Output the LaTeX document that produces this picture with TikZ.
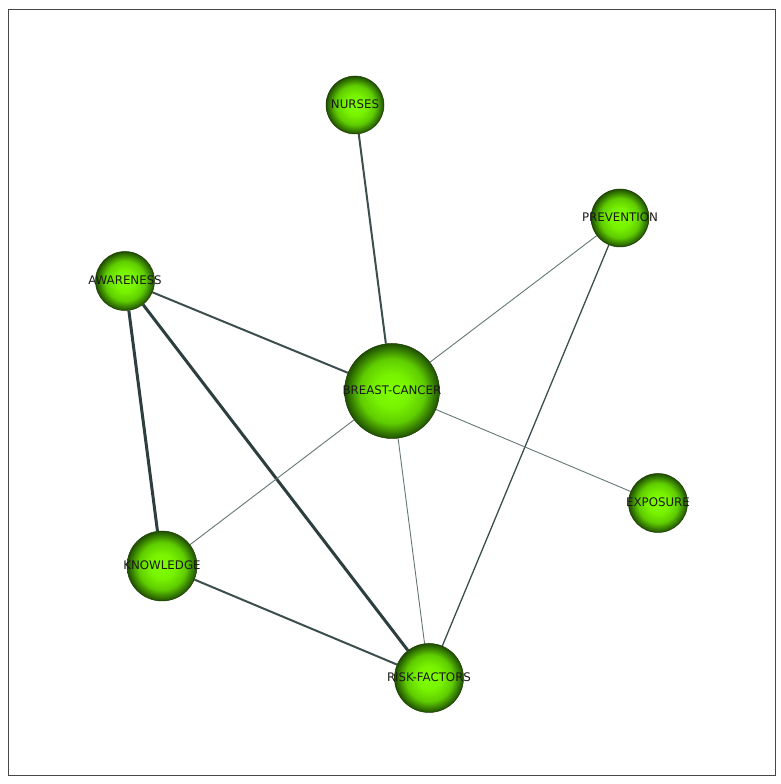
\documentclass[tikz,border=0pt]{standalone}
\usepackage{fontspec}
\setsansfont{DejaVu Sans}
\usetikzlibrary{
  backgrounds
}
\definecolor{ballLight}{RGB}{128,255,0}
\definecolor{ballMid}{RGB}{95,205,0}
\definecolor{ballDark}{RGB}{30,78,0}
\definecolor{ballEdge}{RGB}{28,58,0}
\definecolor{edgeThin}{RGB}{100,118,118}
\definecolor{edgeMid}{RGB}{60,78,78}
\definecolor{edgeThick}{RGB}{45,62,62}
\definecolor{frameLine}{RGB}{70,70,70}
\pgfdeclareradialshading{greenball}{\pgfpoint{0bp}{0bp}}{%
  color(0bp)=(ballLight); color(9bp)=(ballLight!75!ballMid);
  color(17bp)=(ballMid); color(25bp)=(ballDark); color(50bp)=(ballDark)}
\newcommand{\balltext}[1]{\makebox[0pt]{\raisebox{2.5pt}{#1}}}
\tikzset{
  ball/.style={
    circle,
    shading=greenball,
    draw=ballEdge,
    line width=0.5pt,
    inner sep=0pt,
    text=black!90,
    font=\sffamily\fontsize{11.8}{12}\selectfont
  },
  thinedge/.style={
    draw=edgeThin,
    line width=0.9pt
  },
  lightedge/.style={
    draw=edgeMid,
    line width=1.3pt
  },
  midedge/.style={
    draw=edgeMid,
    line width=2pt
  },
  thickedge/.style={
    draw=edgeThick,
    line width=3pt
  }
}

\begin{document}
\begin{tikzpicture}[x=1pt,y=1pt]
  \useasboundingbox (0,0) rectangle (781,784);
  \draw[frameLine, line width=1pt] (8.5,8) rectangle (775,774);

  \node[ball, minimum size=58pt] (nurses) at (355,679)
    {\balltext{NURSES}};
  \node[ball, minimum size=58pt] (prevention) at (620,566)
    {\balltext{PREVENTION}};
  \node[ball, minimum size=59pt] (awareness) at (125,503)
    {\balltext{AWARENESS}};
  \node[ball, minimum size=95pt] (cancer) at (392,393)
    {\balltext{BREAST-CANCER}};
  \node[ball, minimum size=59pt] (exposure) at (658,281)
    {\balltext{EXPOSURE}};
  \node[ball, minimum size=70pt] (knowledge) at (162,218)
    {\balltext{KNOWLEDGE}};
  \node[ball, minimum size=69pt] (risk) at (429,106)
    {\balltext{RISK-FACTORS}};

  \begin{scope}[on background layer]
    \draw[midedge] (nurses) -- (cancer);
    \draw[thinedge] (prevention) -- (cancer);
    \draw[lightedge] (prevention) -- (risk);
    \draw[midedge] (awareness) -- (cancer);
    \draw[thickedge] (awareness) -- (knowledge);
    \draw[thickedge] (awareness) -- (risk);
    \draw[thinedge] (cancer) -- (knowledge);
    \draw[thinedge] (cancer) -- (exposure);
    \draw[thinedge] (cancer) -- (risk);
    \draw[midedge] (knowledge) -- (risk);
  \end{scope}
\end{tikzpicture}
\end{document}
